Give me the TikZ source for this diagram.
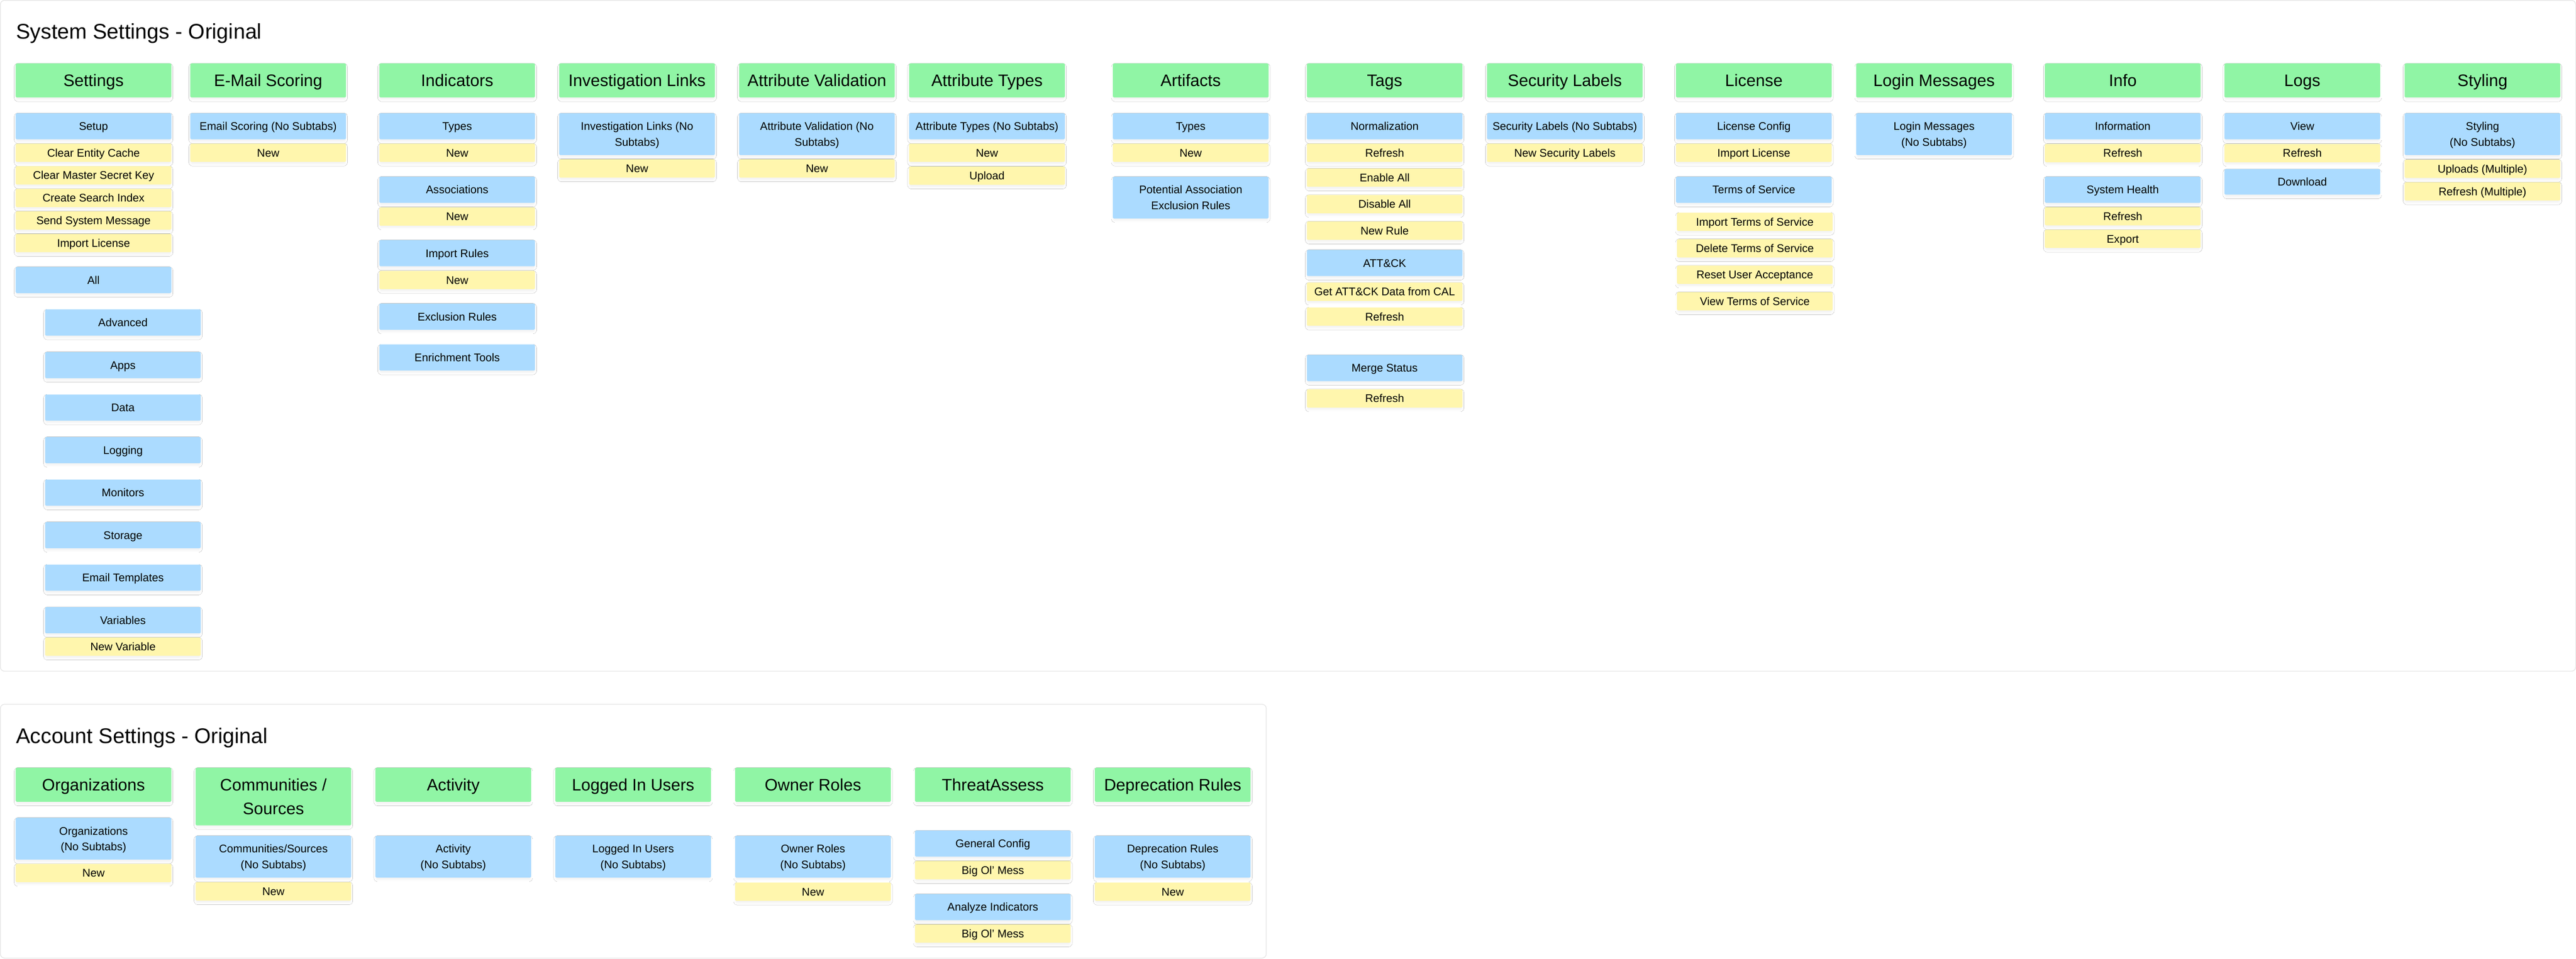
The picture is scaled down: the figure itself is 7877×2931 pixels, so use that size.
\documentclass[tikz,border=0pt]{standalone}
\usepackage{fontspec}
\setmainfont{Liberation Sans}
\usetikzlibrary{shadows.blur}
\definecolor{hdrgreen}{RGB}{144,245,165}
\definecolor{subblue}{RGB}{171,219,255}
\definecolor{actyellow}{RGB}{255,246,173}
\definecolor{panelline}{RGB}{228,228,228}
\newcommand\twoln[2]{\vbox{\halign{\hfil##\hfil\cr#1\cr#2\cr}}}
\tikzset{
  base/.style={anchor=north west, inner sep=0pt, outer sep=0pt, minimum width=476pt,
    rounded corners=3pt,
    blur shadow={shadow xshift=0pt, shadow yshift=-6pt, shadow scale=0.99, shadow blur radius=7pt, shadow opacity=6}},
  hdr/.style={base, fill=hdrgreen, minimum height=104pt, font=\fontsize{51}{72}\selectfont,
    text height=36.5pt, text depth=0pt},
  hdrtwo/.style={hdr, minimum height=176pt, text height=108.5pt},
  sub/.style={base, fill=subblue, minimum height=80pt, font=\fontsize{34}{48}\selectfont,
    text height=24.4pt, text depth=0pt},
  subtwo/.style={sub, minimum height=128pt, text height=72.4pt},
  act/.style={base, fill=actyellow, minimum height=56pt, font=\fontsize{34}{48}\selectfont,
    text height=24.4pt, text depth=0pt},
  panel/.style={draw=panelline, line width=2pt, fill=white, rounded corners=13pt},
  ttl/.style={anchor=base west, inner sep=0pt, font=\fontsize{65}{78}\selectfont}
}
\begin{document}
\begin{tikzpicture}[x=1pt,y=-1pt]
\useasboundingbox (0,0) rectangle (7877,2931);
% panels
\draw[panel] (1,1) rectangle (7876,2052);
\draw[panel] (1,2153) rectangle (3872,2929);
\node[ttl] (systitle) at (49,119) {System Settings - Original};
\node[ttl] (acctitle) at (49,2272) {Account Settings - Original};

% Settings
\node[hdr] (hSettings) at (48,194) {Settings};
\node[sub] (sSetup) at (48,346) {Setup};
\node[act] (aClearCache) at (48,439) {Clear Entity Cache};
\node[act] (aClearKey) at (48,508) {Clear Master Secret Key};
\node[act] (aSearchIdx) at (48,577) {Create Search Index};
\node[act] (aSendMsg) at (48,646) {Send System Message};
\node[act] (aImpLic) at (48,715) {Import License};
\node[sub] (sAll) at (48,816) {All};
\node[sub] (sAdvanced) at (138,946) {Advanced};
\node[sub] (sApps) at (138,1076) {Apps};
\node[sub] (sData) at (138,1206) {Data};
\node[sub] (sLogging) at (138,1336) {Logging};
\node[sub] (sMonitors) at (138,1466) {Monitors};
\node[sub] (sStorage) at (138,1596) {Storage};
\node[sub] (sEmailTpl) at (138,1726) {Email Templates};
\node[sub] (sVariables) at (138,1856) {Variables};
\node[act] (aNewVar) at (138,1949) {New Variable};

% E-Mail Scoring
\node[hdr] (hEmail) at (582,194) {E-Mail Scoring};
\node[sub] (sEmail) at (582,346) {Email Scoring (No Subtabs)};
\node[act] (aEmailNew) at (582,439) {New};

% Indicators
\node[hdr] (hInd) at (1160,194) {Indicators};
\node[sub] (sIndTypes) at (1160,346) {Types};
\node[act] (aIndTypesNew) at (1160,439) {New};
\node[sub] (sIndAssoc) at (1160,540) {Associations};
\node[act] (aIndAssocNew) at (1160,634) {New};
\node[sub] (sIndImport) at (1160,734) {Import Rules};
\node[act] (aIndImportNew) at (1160,828) {New};
\node[sub] (sIndExcl) at (1160,928) {Exclusion Rules};
\node[sub] (sIndEnrich) at (1160,1053) {Enrichment Tools};

% Investigation Links
\node[hdr] (hInv) at (1710,194) {Investigation Links};
\node[subtwo] (sInv) at (1710,346) {\twoln{Investigation Links (No}{Subtabs)}};
\node[act] (aInvNew) at (1710,487) {New};

% Attribute Validation
\node[hdr] (hAttrVal) at (2260,194) {Attribute Validation};
\node[subtwo] (sAttrVal) at (2260,346) {\twoln{Attribute Validation (No}{Subtabs)}};
\node[act] (aAttrValNew) at (2260,487) {New};

% Attribute Types
\node[hdr] (hAttrTyp) at (2780,194) {Attribute Types};
\node[sub] (sAttrTyp) at (2780,346) {Attribute Types (No Subtabs)};
\node[act] (aAttrTypNew) at (2780,439) {New};
\node[act] (aAttrTypUp) at (2780,509) {Upload};

% Artifacts
\node[hdr] (hArt) at (3403,194) {Artifacts};
\node[sub] (sArtTypes) at (3403,346) {Types};
\node[act] (aArtNew) at (3403,439) {New};
\node[subtwo] (sArtPot) at (3403,540) {\twoln{Potential Association}{Exclusion Rules}};

% Tags
\node[hdr] (hTags) at (3996,194) {Tags};
\node[sub] (sNorm) at (3996,346) {Normalization};
\node[act] (aNormRef) at (3996,439) {Refresh};
\node[act] (aEnable) at (3996,515) {Enable All};
\node[act] (aDisable) at (3996,596) {Disable All};
\node[act] (aNewRule) at (3996,677) {New Rule};
\node[sub] (sAttck) at (3996,764) {ATT\&CK};
\node[act] (aGetAttck) at (3996,864) {Get ATT\&CK Data from CAL};
\node[act] (aAttckRef) at (3996,940) {Refresh};
\node[sub] (sMerge) at (3996,1085) {Merge Status};
\node[act] (aMergeRef) at (3996,1190) {Refresh};

% Security Labels
\node[hdr] (hSec) at (4547,194) {Security Labels};
\node[sub] (sSec) at (4547,346) {Security Labels (No Subtabs)};
\node[act] (aSecNew) at (4547,439) {New Security Labels};

% License
\node[hdr] (hLic) at (5125,194) {License};
\node[sub] (sLicCfg) at (5125,346) {License Config};
\node[act] (aLicImp) at (5125,439) {Import License};
\node[sub] (sTos) at (5125,540) {Terms of Service};
\node[act] (aTosImp) at (5128,650) {Import Terms of Service};
\node[act] (aTosDel) at (5128,731) {Delete Terms of Service};
\node[act] (aTosReset) at (5128,812) {Reset User Acceptance};
\node[act] (aTosView) at (5128,893) {View Terms of Service};

% Login Messages
\node[hdr] (hLogin) at (5676,194) {Login Messages};
\node[subtwo] (sLogin) at (5676,346) {\twoln{Login Messages}{(No Subtabs)}};

% Info
\node[hdr] (hInfo) at (6253,194) {Info};
\node[sub] (sInfo) at (6253,346) {Information};
\node[act] (aInfoRef) at (6253,440) {Refresh};
\node[sub] (sHealth) at (6253,540) {System Health};
\node[act] (aHealthRef) at (6253,633) {Refresh};
\node[act] (aHealthExp) at (6253,702) {Export};

% Logs
\node[hdr] (hLogs) at (6802,194) {Logs};
\node[sub] (sView) at (6802,346) {View};
\node[act] (aViewRef) at (6802,440) {Refresh};
\node[sub, minimum height=78pt] (sDownload) at (6802,517) {Download};

% Styling
\node[hdr] (hStyle) at (7353,194) {Styling};
\node[subtwo] (sStyle) at (7353,346) {\twoln{Styling}{(No Subtabs)}};
\node[act] (aUploads) at (7353,488) {Uploads (Multiple)};
\node[act] (aStyleRef) at (7353,557) {Refresh (Multiple)};

% ===== Account Settings =====
\node[hdr] (hOrg) at (48,2347) {Organizations};
\node[subtwo] (sOrg) at (48,2500) {\twoln{Organizations}{(No Subtabs)}};
\node[act] (aOrgNew) at (48,2641) {New};

\node[hdrtwo] (hComm) at (598,2347) {\twoln{Communities /}{Sources}};
\node[subtwo] (sComm) at (598,2555) {\twoln{Communities/Sources}{(No Subtabs)}};
\node[act] (aCommNew) at (598,2697) {New};

\node[hdr] (hAct) at (1148,2347) {Activity};
\node[subtwo] (sAct) at (1148,2555) {\twoln{Activity}{(No Subtabs)}};

\node[hdr] (hLogged) at (1698,2347) {Logged In Users};
\node[subtwo] (sLogged) at (1698,2555) {\twoln{Logged In Users}{(No Subtabs)}};

\node[hdr] (hOwner) at (2248,2347) {Owner Roles};
\node[subtwo] (sOwner) at (2248,2555) {\twoln{Owner Roles}{(No Subtabs)}};
\node[act] (aOwnerNew) at (2248,2698) {New};

\node[hdr] (hThreat) at (2798,2347) {ThreatAssess};
\node[sub] (sGenCfg) at (2798,2539) {General Config};
\node[act] (aMess1) at (2798,2632) {Big Ol' Mess};
\node[sub] (sAnalyze) at (2798,2733) {Analyze Indicators};
\node[act] (aMess2) at (2798,2826) {Big Ol' Mess};

\node[hdr] (hDep) at (3348,2347) {Deprecation Rules};
\node[subtwo] (sDep) at (3348,2555) {\twoln{Deprecation Rules}{(No Subtabs)}};
\node[act] (aDepNew) at (3348,2698) {New};
\end{tikzpicture}
\end{document}
